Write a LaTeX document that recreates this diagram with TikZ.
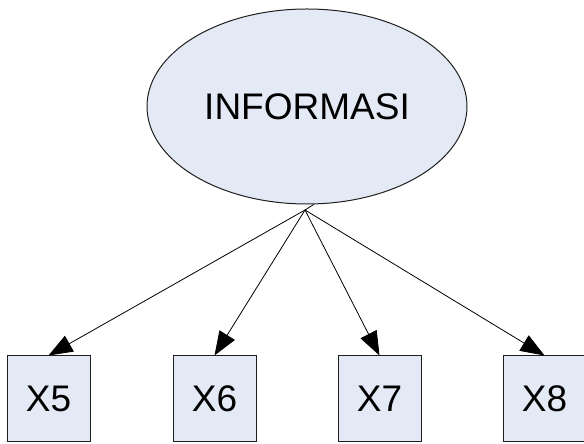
\documentclass[tikz,border=0pt]{standalone}
\usepackage{fontspec}
\setmainfont{Liberation Sans}
\usetikzlibrary{shapes.geometric,arrows.meta}
\definecolor{fillblue}{RGB}{228,234,245}
\definecolor{edge}{RGB}{30,30,30}
\tikzset{
  latent/.style={ellipse,draw=edge,fill=fillblue,line width=1pt,minimum width=320pt,minimum height=195pt,inner sep=0pt,font=\fontsize{37}{40}\selectfont},
  indicator/.style={rectangle,draw=edge,fill=fillblue,line width=1pt,minimum width=83pt,minimum height=86pt,inner sep=0pt,font=\fontsize{37}{40}\selectfont},
  link/.style={line width=0.8pt,-{Triangle[length=24pt,width=18pt]}}
}
\begin{document}
\begin{tikzpicture}[x=1pt,y=1pt]
\useasboundingbox (0,0) rectangle (584,444);
\node[latent] (e) at (307,337.5) {INFORMASI};
\coordinate (o) at (305,234);
\node[indicator] (b5) at (48.5,45) {X5};
\node[indicator] (b6) at (214.5,45) {X6};
\node[indicator] (b7) at (379.5,45) {X7};
\node[indicator] (b8) at (544.5,45) {X8};
\draw[line width=0.8pt] (e.-86) -- (o);
\draw[link] (o) -- (b5.north);
\draw[link] (o) -- (b6.north);
\draw[link] (o) -- (b7.north);
\draw[link] (o) -- (b8.north);
\end{tikzpicture}
\end{document}
